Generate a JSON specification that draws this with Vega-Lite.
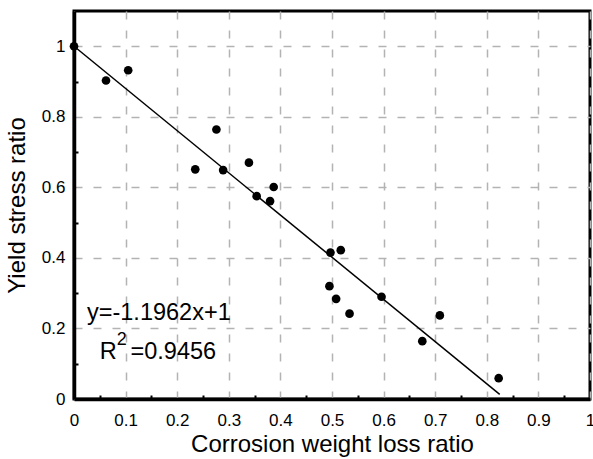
{
  "$schema": "https://vega.github.io/schema/vega-lite/v6.json",
  "width": 516,
  "height": 388,
  "autosize": "none",
  "padding": {"left": 74, "top": 11, "right": 3, "bottom": 60},
  "background": "white",
  "config": {
    "view": {"stroke": "black", "strokeWidth": 3},
    "font": "Liberation Sans"
  },
  "datasets": {
    "pts": [
      {"x": 0.0, "y": 1.0},
      {"x": 0.062, "y": 0.903},
      {"x": 0.105, "y": 0.932},
      {"x": 0.235, "y": 0.651},
      {"x": 0.276, "y": 0.764},
      {"x": 0.289, "y": 0.649},
      {"x": 0.339, "y": 0.670},
      {"x": 0.354, "y": 0.575},
      {"x": 0.380, "y": 0.561},
      {"x": 0.387, "y": 0.601},
      {"x": 0.495, "y": 0.320},
      {"x": 0.497, "y": 0.415},
      {"x": 0.508, "y": 0.284},
      {"x": 0.517, "y": 0.422},
      {"x": 0.534, "y": 0.242},
      {"x": 0.596, "y": 0.290},
      {"x": 0.675, "y": 0.164},
      {"x": 0.709, "y": 0.237},
      {"x": 0.823, "y": 0.059}
    ],
    "fit": [
      {"x": 0.0, "y": 1.0},
      {"x": 0.825, "y": 0.0131}
    ],
    "notes": [
      {"x": 0.0252, "y": 0.224, "t": "y=-1.1962x+1"},
      {"x": 0.0498, "y": 0.1126, "t": "R"},
      {"x": 0.1095, "y": 0.1126, "t": "=0.9456"}
    ],
    "sup": [
      {"x": 0.0827, "y": 0.153, "t": "2"}
    ]
  },
  "encoding": {
    "x": {
      "field": "x", "type": "quantitative",
      "scale": {"domain": [0, 1], "nice": false, "zero": false},
      "axis": {
        "values": [0, 0.05, 0.1, 0.15, 0.2, 0.25, 0.3, 0.35, 0.4, 0.45, 0.5, 0.55, 0.6, 0.65, 0.7, 0.75, 0.8, 0.85, 0.9, 0.95, 1],
        "labelExpr": "round(datum.value*100) % 10 === 0 ? format(datum.value, '~g') : ''",
        "labelOverlap": false,
        "labelFlush": false,
        "labelBound": false,
        "grid": true,
        "gridColor": {"condition": {"test": "round(datum.value*100) % 10 === 0", "value": "#b3b3b3"}, "value": "transparent"},
        "gridDash": [8, 11],
        "gridWidth": 1.5,
        "ticks": true,
        "tickSize": -4,
        "tickWidth": 2,
        "tickColor": {"condition": {"test": "round(datum.value*100) % 10 !== 0", "value": "black"}, "value": "transparent"},
        "domainColor": "black",
        "domainWidth": 3.5,
        "labelFont": "Liberation Sans",
        "labelFontSize": 17,
        "labelColor": "black",
        "labelPadding": 17,
        "title": "Corrosion weight loss ratio",
        "titleFont": "Liberation Sans",
        "titleFontSize": 24,
        "titleFontWeight": "normal",
        "titleColor": "black",
        "titleX": 258,
        "titleY": 52,
        "titleBaseline": "alphabetic",
        "titleAlign": "center"
      }
    },
    "y": {
      "field": "y", "type": "quantitative",
      "scale": {"domain": [0, 1.1], "nice": false, "zero": false},
      "axis": {
        "values": [0, 0.1, 0.2, 0.3, 0.4, 0.5, 0.6, 0.7, 0.8, 0.9, 1],
        "labelExpr": "round(datum.value*10) % 2 === 0 ? format(datum.value, '~g') : ''",
        "labelOverlap": false,
        "labelFlush": false,
        "labelBound": false,
        "grid": true,
        "gridColor": {"condition": {"test": "round(datum.value*10) % 2 === 0", "value": "#b3b3b3"}, "value": "transparent"},
        "gridDash": [8, 11],
        "gridWidth": 1.5,
        "ticks": true,
        "tickSize": -4,
        "tickWidth": 2,
        "tickColor": {"condition": {"test": "round(datum.value*10) % 2 !== 0", "value": "black"}, "value": "transparent"},
        "domainColor": "black",
        "domainWidth": 3.5,
        "labelFont": "Liberation Sans",
        "labelFontSize": 17,
        "labelColor": "black",
        "labelPadding": 13,
        "title": "Yield stress ratio",
        "titleFont": "Liberation Sans",
        "titleFontSize": 24,
        "titleFontWeight": "normal",
        "titleColor": "black",
        "titleAngle": -90,
        "titleX": -50,
        "titleY": 194,
        "titleBaseline": "alphabetic",
        "titleAlign": "center"
      }
    }
  },
  "layer": [
    {
      "data": {"name": "fit"},
      "mark": {"type": "line", "color": "black", "strokeWidth": 1.5}
    },
    {
      "data": {"name": "pts"},
      "mark": {"type": "point", "filled": true, "color": "black", "opacity": 1, "size": 75}
    },
    {
      "data": {"name": "notes"},
      "mark": {"type": "text", "align": "left", "baseline": "alphabetic", "fontSize": 23.5, "font": "Liberation Sans", "color": "black"},
      "encoding": {
        "text": {"field": "t", "type": "nominal"}
      }
    },
    {
      "data": {"name": "sup"},
      "mark": {"type": "text", "align": "left", "baseline": "alphabetic", "fontSize": 18, "font": "Liberation Sans", "color": "black"},
      "encoding": {
        "text": {"field": "t", "type": "nominal"}
      }
    }
  ]
}
